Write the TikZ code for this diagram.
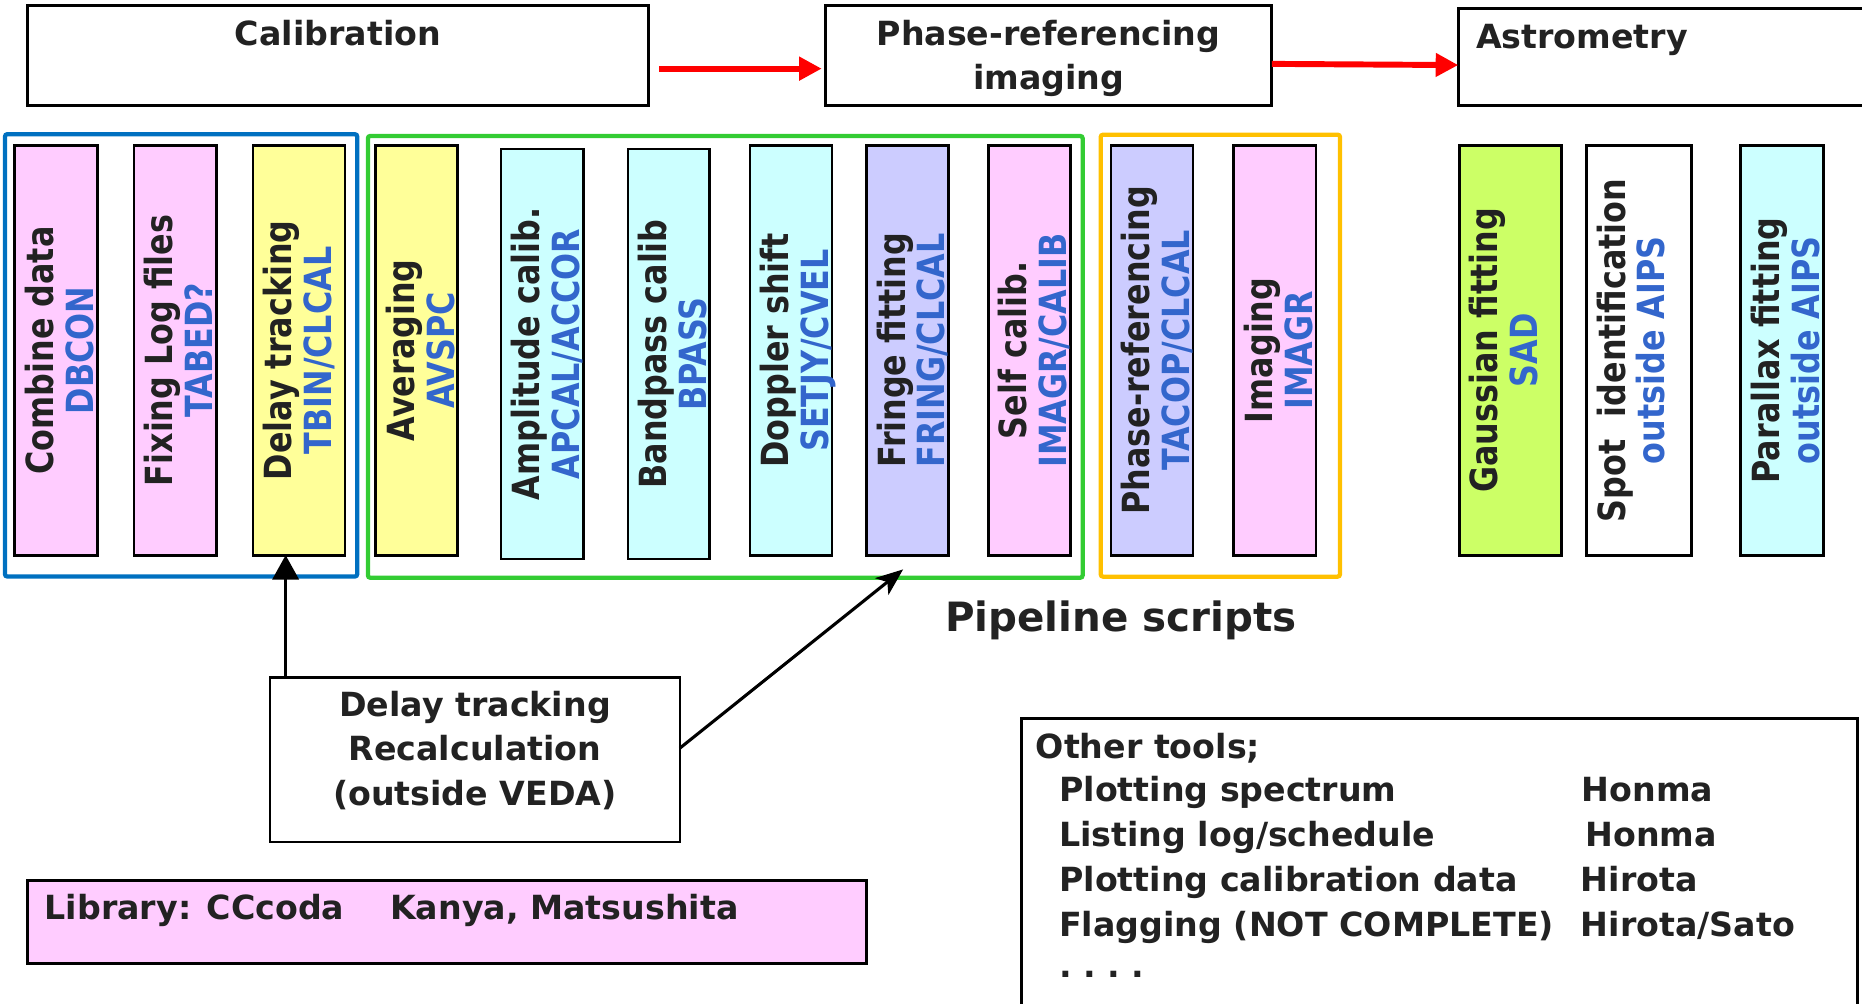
\documentclass[tikz,border=0pt]{standalone}
\usepackage{fontspec}
\setmainfont{DejaVu Sans}
\newfontfamily\colfont[FakeStretch=0.85]{DejaVu Sans}
\usetikzlibrary{arrows.meta}

\definecolor{inkc}{HTML}{222222}
\definecolor{taskblue}{HTML}{3366CC}
\definecolor{pinkc}{HTML}{FFCCFF}
\definecolor{yellowc}{HTML}{FFFF99}
\definecolor{cyanc}{HTML}{CCFFFF}
\definecolor{lavc}{HTML}{CCCCFF}
\definecolor{limec}{HTML}{CCFF66}
\definecolor{grpblue}{HTML}{0070C0}
\definecolor{grpgreen}{HTML}{33CC33}
\definecolor{grporange}{HTML}{FFC000}
\definecolor{arrowred}{HTML}{FF0000}

% rectangle node given by left, top, right, bottom
\newcommand{\rectnode}[6]{%
  \node[#6, minimum width={(#4)-(#2)}, minimum height={(#5)-(#3)}]
    (#1) at ({((#2)+(#4))/2},{((#3)+(#5))/2}) {};}

% one processing step: box, description, AIPS task
\newcommand{\stagecol}[8]{%
  \rectnode{#1}{#2}{#3}{#4}{#5}{colbox, fill=#6}
  \node[coltext, text=inkc] (#1-a) at ([xshift=32.5pt]#1.west) {#7};
  \node[coltext, text=taskblue] (#1-b) at ([xshift=66pt]#1.west) {#8};}

\begin{document}
\begin{tikzpicture}[x=1pt, y=-1pt,
  every node/.style={inner sep=0pt, outer sep=0pt},
  colbox/.style={draw=black, line width=2.4pt, rectangle},
  topbox/.style={draw=black, line width=2.4pt, fill=white, rectangle},
  grpframe/.style={draw, line width=3.6pt, rounded corners=2pt, rectangle},
  coltext/.style={rotate=90, anchor=base,
    font=\colfont\bfseries\fontsize{31.5}{33}\selectfont},
  headtext/.style={anchor=base, text=inkc,
    font=\bfseries\fontsize{28}{34}\selectfont},
  bodytext/.style={anchor=base west, text=inkc,
    font=\bfseries\fontsize{28}{34}\selectfont},
  conn/.style={draw=black, line width=2.6pt},
  redarr/.style={draw=arrowred, line width=5pt,
    -{Triangle[length=19pt, width=19pt]}}]

\useasboundingbox (0,0) rectangle (1568,845);

% ---- stage headers ----
\rectnode{cal}{23.3}{4.6}{546}{89}{topbox}
\node[headtext] (calT) at (284.5,38) {Calibration};

\rectnode{phase}{695}{4.6}{1071}{89}{topbox}
\node[headtext] (phaseT1) at (883,38) {Phase-referencing};
\node[headtext] (phaseT2) at (883,75) {imaging};

\rectnode{astro}{1228}{7}{1590}{88.6}{topbox}
\node[headtext, anchor=base west] (astroT) at (1243,40.5) {Astrometry};

\draw[redarr] ([xshift=9pt, yshift=-11pt]cal.east) -- ([xshift=-3pt, yshift=-11pt]phase.west);
\draw[redarr] ([yshift=-7pt]phase.east) -- ([yshift=-7pt]astro.west);

% ---- group frames ----
\rectnode{grpA}{4.2}{113}{300.8}{485.5}{grpframe, grpblue}
\rectnode{grpB}{309.8}{114.5}{911.7}{486.5}{grpframe, grpgreen}
\rectnode{grpC}{926.9}{113.4}{1128.4}{485.6}{grpframe, grporange}

% ---- processing steps ----
\stagecol{c1}{12.5}{122.7}{82}{467.5}{pinkc}{Combine data}{DBCON}
\stagecol{c2}{112.8}{122.7}{182.2}{467.5}{pinkc}{Fixing Log files}{TABED?}
\stagecol{c3}{213}{122.7}{290.5}{467.5}{yellowc}{Delay tracking}{TBIN/CLCAL}
\stagecol{c4}{316.5}{122.7}{385.6}{467.5}{yellowc}{Averaging}{AVSPC}
\stagecol{c5}{421.9}{125.5}{491.1}{470.7}{cyanc}{Amplitude calib.}{APCAL/ACCOR}
\stagecol{c6}{528.8}{125.5}{597.3}{470.7}{cyanc}{Bandpass calib}{BPASS}
\stagecol{c7}{631.6}{122.7}{700.6}{467.5}{cyanc}{Doppler shift}{SETJY/CVEL}
\stagecol{c8}{729.6}{122.7}{798.6}{467.5}{lavc}{Fringe fitting}{FRING/CLCAL}
\stagecol{c9}{832.3}{122.7}{901.6}{467.5}{pinkc}{Self calib.}{IMAGR/CALIB}
\stagecol{c10}{935.6}{122.7}{1004.6}{467.5}{lavc}{Phase-referencing}{TACOP/CLCAL}
\stagecol{c11}{1038.9}{122.7}{1108.2}{467.5}{pinkc}{Imaging}{IMAGR}
\stagecol{c12}{1228.8}{122.7}{1315}{467.5}{limec}{Gaussian fitting}{SAD}
\stagecol{c13}{1336}{122.7}{1424.6}{467.5}{white}{Spot\ \ identification}{outside AIPS}
\stagecol{c14}{1465.8}{122.7}{1535.3}{467.5}{cyanc}{Parallax fitting}{outside AIPS}

\node[anchor=base west, text=inkc, font=\bfseries\fontsize{34}{40}\selectfont]
  (pipe) at (796,532) {Pipeline scripts};

% ---- delay tracking recalculation ----
\rectnode{dtr}{227.5}{570.5}{572.5}{708.8}{topbox, line width=2pt}
\node[headtext] (dtr1) at (400,603.5) {Delay tracking};
\node[headtext] (dtr2) at (400,640.5) {Recalculation};
\node[headtext] (dtr3) at (400,678) {(outside VEDA)};

\coordinate (dtTip) at ([xshift=-11.2pt]c3.south);
\draw[conn, -{Triangle[length=20.5pt, width=22pt]}] (dtTip |- dtr.north) -- (dtTip);
\coordinate (ffTip) at (760.5,479.5);
\draw[conn, -{Stealth[length=23pt, width=18pt, inset=6pt]}] ([yshift=9.6pt]dtr.east) -- (ffTip);

% ---- library ----
\rectnode{lib}{23.2}{741.6}{730}{811.2}{topbox, fill=pinkc}
\node[bodytext] (libT1) at (37.7,774.7) {Library: CCcoda};
\node[bodytext] (libT2) at (328.6,774.7) {Kanya, Matsushita};

% ---- other tools ----
\rectnode{other}{860}{605}{1564.5}{880}{topbox}
\node[bodytext] (o0) at (872.2,639) {Other tools;};
\node[bodytext] (o1) at (892,675) {Plotting spectrum};
\node[bodytext] (o2) at (892,713) {Listing log/schedule};
\node[bodytext] (o3) at (892,751) {Plotting calibration data};
\node[bodytext] (o4) at (892,789) {Flagging (NOT COMPLETE)};
\node[bodytext] (o5) at (892,823) {.\ .\ .\ .};
\node[bodytext] (n1) at (1332,675) {Honma};
\node[bodytext] (n2) at (1335,713) {Honma};
\node[bodytext] (n3) at (1331.3,751) {Hirota};
\node[bodytext] (n4) at (1331.3,789) {Hirota/Sato};
\end{tikzpicture}
\end{document}
